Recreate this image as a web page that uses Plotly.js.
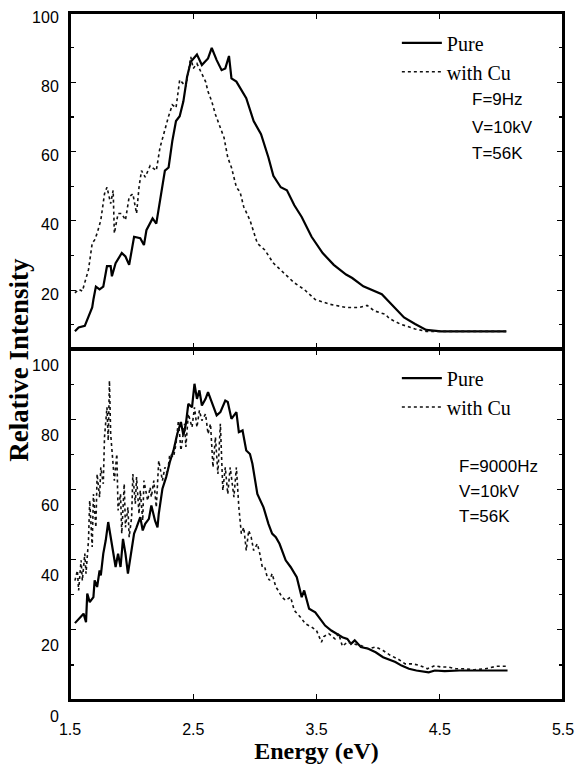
<!DOCTYPE html>
<html>
<head>
<meta charset="utf-8">
<script src="https://cdn.plot.ly/plotly-3.0.1.min.js"></script>
<style>
html,body{margin:0;padding:0;background:#fff;}
#chart{width:576px;height:768px;}
</style>
</head>
<body>
<div id="chart"></div>
<script>
// ---- Data ----
// Top panel: F=9Hz
const topPureX = [1.54,1.57,1.62,1.65,1.68,1.69,1.71,1.74,1.77,1.80,1.83,1.84,1.87,1.92,1.95,1.98,2.02,2.07,2.10,2.12,2.17,2.20,2.23,2.27,2.30,2.33,2.36,2.39,2.42,2.45,2.48,2.53,2.57,2.62,2.65,2.69,2.73,2.76,2.79,2.81,2.85,2.89,2.93,2.99,3.05,3.11,3.15,3.21,3.26,3.32,3.38,3.46,3.55,3.64,3.74,3.79,3.88,4.03,4.12,4.21,4.30,4.39,4.51,4.80,5.04];
const topPureY = [8.1,9.2,9.7,12.1,15.0,17.3,21.0,20.2,21.0,26.9,26.9,24.0,27.8,30.7,29.7,27.3,35.4,35.0,33.0,37.3,40.7,39.2,45.9,54.5,55.4,63.0,68.8,70.2,74.5,81.6,85.9,88.0,85.0,86.9,89.9,86.4,83.5,84.0,87.6,81.1,80.2,77.8,75.4,68.8,65.0,58.3,53.0,49.7,48.8,44.5,41.1,35.4,30.7,27.3,24.5,23.5,21.1,18.8,15.4,12.1,10.2,8.5,8.1,8.1,8.1];
const topCuX = [1.54,1.57,1.60,1.62,1.65,1.68,1.70,1.72,1.75,1.78,1.80,1.83,1.85,1.86,1.89,1.92,1.95,1.98,2.01,2.04,2.06,2.08,2.11,2.15,2.20,2.23,2.27,2.30,2.33,2.36,2.39,2.44,2.48,2.50,2.53,2.57,2.60,2.62,2.65,2.68,2.72,2.75,2.78,2.81,2.85,2.88,2.91,2.96,3.02,3.08,3.15,3.23,3.32,3.40,3.49,3.61,3.74,3.85,3.91,3.97,4.06,4.09,4.18,4.30,4.39,4.51,5.04];
const topCuY = [19.2,20.2,19.7,22.0,25.9,33.5,34.5,36.4,40.2,47.8,49.7,45.0,48.8,36.4,42.1,42.1,40.2,46.9,47.8,42.1,49.7,54.5,52.6,55.9,54.5,61.1,66.8,70.2,73.5,72.6,80.7,78.8,87.3,84.0,85.4,82.6,80.2,77.3,74.5,70.7,66.9,64.0,58.3,55.4,49.7,48.3,44.0,40.2,33.5,31.6,27.8,25.0,22.1,20.2,17.3,15.9,15.0,15.0,15.6,14.0,13.0,11.8,10.2,8.8,8.1,8.1,8.1];

// Bottom panel: F=9000Hz
const botPureX = [1.54,1.58,1.61,1.63,1.64,1.66,1.69,1.70,1.72,1.74,1.75,1.77,1.79,1.81,1.83,1.85,1.87,1.89,1.91,1.93,1.95,1.97,1.99,2.02,2.04,2.07,2.09,2.11,2.14,2.16,2.19,2.21,2.22,2.25,2.28,2.31,2.34,2.37,2.40,2.42,2.44,2.46,2.49,2.51,2.53,2.55,2.57,2.60,2.62,2.65,2.69,2.72,2.76,2.78,2.81,2.85,2.87,2.90,2.93,2.96,2.98,3.02,3.07,3.11,3.14,3.17,3.20,3.25,3.29,3.34,3.38,3.40,3.44,3.49,3.53,3.57,3.62,3.66,3.71,3.75,3.78,3.81,3.86,3.92,3.98,4.04,4.10,4.14,4.19,4.25,4.31,4.41,4.46,4.54,4.66,4.81,5.05];
const botPureY = [21.9,23.6,24.6,22.2,30.3,27.9,29.3,34.1,32.2,36.9,35.5,41.7,45.5,50.7,46.4,42.6,37.9,41.7,37.9,45.9,41.7,36.0,40.7,47.4,49.2,52.1,48.3,50.2,51.6,55.4,51.1,49.2,53.0,60.2,63.5,67.8,71.1,75.8,79.2,75.4,78.7,84.4,83.4,90.1,85.8,88.2,83.9,85.8,87.7,84.9,81.1,82.0,85.3,84.9,80.1,82.0,76.3,76.8,71.1,70.1,67.3,58.7,54.9,50.2,47.4,46.4,44.5,39.8,37.9,35.0,29.3,31.2,26.0,25.0,23.1,21.2,19.8,18.9,17.9,17.4,16.0,17.0,15.1,14.6,13.6,12.2,11.3,10.8,9.8,8.9,8.4,7.9,8.4,8.2,8.4,8.4,8.4];
const botCuX = [1.54,1.56,1.57,1.59,1.60,1.62,1.63,1.65,1.66,1.68,1.69,1.71,1.72,1.74,1.75,1.77,1.78,1.80,1.81,1.82,1.83,1.84,1.85,1.86,1.88,1.89,1.91,1.92,1.94,1.95,1.97,1.98,2.00,2.01,2.03,2.04,2.06,2.07,2.09,2.10,2.13,2.15,2.16,2.18,2.20,2.22,2.25,2.27,2.29,2.31,2.34,2.36,2.38,2.40,2.43,2.44,2.46,2.49,2.51,2.53,2.55,2.57,2.60,2.62,2.64,2.66,2.68,2.70,2.72,2.74,2.76,2.78,2.80,2.83,2.85,2.87,2.89,2.91,2.93,2.95,2.97,2.99,3.02,3.04,3.06,3.08,3.10,3.12,3.14,3.17,3.19,3.22,3.25,3.29,3.32,3.37,3.41,3.46,3.50,3.54,3.56,3.60,3.65,3.68,3.71,3.75,3.80,3.86,3.92,3.98,4.04,4.10,4.16,4.22,4.28,4.34,4.40,4.46,4.51,4.57,4.63,4.69,4.78,4.87,4.96,5.05];
const botCuY = [34.0,36.9,31.2,39.8,34.0,41.7,36.0,45.5,56.8,43.6,58.7,49.2,64.4,57.8,66.3,61.6,74.9,83.4,73.9,91.0,75.8,71.1,68.2,62.5,70.1,54.0,58.7,47.4,61.6,49.2,54.9,46.4,52.1,64.4,55.9,63.5,53.0,59.7,51.1,62.5,56.8,60.6,57.8,62.5,54.9,68.2,62.5,66.3,64.4,70.1,69.2,73.0,79.6,71.1,78.7,72.1,81.5,77.7,83.4,77.7,82.5,79.6,81.5,75.8,78.7,66.3,74.9,64.4,78.7,59.7,66.3,58.7,66.3,57.8,66.3,54.9,47.4,49.2,42.6,48.3,46.4,42.6,44.5,41.7,37.9,37.9,35.0,34.1,36.0,32.2,31.2,29.3,28.4,29.3,25.5,23.6,21.7,20.8,19.8,16.5,18.1,18.9,17.4,18.9,15.3,16.5,16.0,15.5,14.6,15.1,14.1,12.7,11.7,10.3,10.3,9.8,8.9,9.8,9.4,9.4,8.9,8.9,8.6,8.9,9.6,9.6];

// Labels and ticks
const seriesNames = ["Pure", "with Cu"];
const topInfo = ["F=9Hz", "V=10kV", "T=56K"];
const botInfo = ["F=9000Hz", "V=10kV", "T=56K"];
const xTitle = "Energy (eV)";
const yTitle = "Relative Intensity";

// ---- Styles ----
const sans = "Liberation Sans, Arial, sans-serif";
const serif = "Liberation Serif, Times New Roman, serif";
const solidLine = {color: "#000", width: 2.2};
const dotLine = {color: "#111", width: 1.6, dash: "dot"};

const traces = [
  {x: topPureX, y: topPureY, xaxis: "x", yaxis: "y", mode: "lines", name: seriesNames[0], line: solidLine, legend: "legend"},
  {x: topCuX, y: topCuY, xaxis: "x", yaxis: "y", mode: "lines", name: seriesNames[1], line: dotLine, legend: "legend"},
  {x: botPureX, y: botPureY, xaxis: "x2", yaxis: "y2", mode: "lines", name: seriesNames[0], line: solidLine, legend: "legend2"},
  {x: botCuX, y: botCuY, xaxis: "x2", yaxis: "y2", mode: "lines", name: seriesNames[1], line: dotLine, legend: "legend2"}
];

const split = 0.5109;
const axisCommon = {
  showline: true, linecolor: "#000", linewidth: 2, mirror: "ticks",
  ticks: "inside", ticklen: 6, tickcolor: "#000", tickwidth: 1.2,
  showgrid: false, zeroline: false, fixedrange: true,
  tickfont: {family: sans, size: 16, color: "#000"}
};

function infoAnnots(lines, x, ys) {
  return lines.map((t, i) => ({
    text: t, xref: "paper", yref: "paper", x: x, y: ys[i],
    xanchor: "left", yanchor: "middle", showarrow: false,
    font: {family: sans, size: 17, color: "#000"}
  }));
}

function frame(xr, yr) {
  return {type: "rect", xref: xr + " domain", yref: yr + " domain", x0: 0, x1: 1, y0: 0, y1: 1,
          line: {color: "#000", width: 2}, fillcolor: "rgba(0,0,0,0)", layer: "above"};
}

const layout = {
  width: 576, height: 768,
  margin: {l: 70, r: 13, t: 13, b: 68},
  paper_bgcolor: "#fff", plot_bgcolor: "#fff",
  showlegend: true,
  xaxis: Object.assign({}, axisCommon, {
    domain: [0, 1], anchor: "y", range: [1.5, 5.5],
    tickmode: "linear", tick0: 1.5, dtick: 1, showticklabels: false
  }),
  yaxis: Object.assign({}, axisCommon, {
    domain: [split, 1], anchor: "x", range: [3, 100],
    tickmode: "linear", tick0: 0, dtick: 20, ticklabelstandoff: 6, ticklabelshift: 4,
    minor: {ticks: "inside", ticklen: 4, dtick: 10, tickcolor: "#000"}
  }),
  xaxis2: Object.assign({}, axisCommon, {
    domain: [0, 1], anchor: "y2", range: [1.5, 5.5],
    tickmode: "linear", tick0: 1.5, dtick: 1, tickformat: ".1f", ticklabelstandoff: 14,
    title: {text: "<b>" + xTitle + "</b>", standoff: 4, font: {family: serif, size: 24, color: "#000"}}
  }),
  yaxis2: Object.assign({}, axisCommon, {
    domain: [0, split], anchor: "x2", range: [0, 100],
    tickmode: "linear", tick0: 0, dtick: 20, ticklabelstandoff: 6, ticklabelshift: 16,
    minor: {ticks: "inside", ticklen: 4, dtick: 10, tickcolor: "#000"}
  }),
  legend: {
    x: 0.663, y: 0.985, xanchor: "left", yanchor: "top", xref: "paper", yref: "paper",
    bgcolor: "rgba(0,0,0,0)", borderwidth: 0, itemwidth: 40, tracegroupgap: 0,
    font: {family: serif, size: 20, color: "#000"}
  },
  legend2: {
    x: 0.663, y: 0.497, xanchor: "left", yanchor: "top", xref: "paper", yref: "paper",
    bgcolor: "rgba(0,0,0,0)", borderwidth: 0, itemwidth: 40, tracegroupgap: 0,
    font: {family: serif, size: 20, color: "#000"}
  },
  shapes: [frame("x", "y"), frame("x2", "y2")],
  annotations: [].concat(
    infoAnnots(topInfo, 0.811, [0.8734, 0.834, 0.796]),
    infoAnnots(botInfo, 0.785, [0.3406, 0.3042, 0.2678]),
    [{
      text: "<b>" + yTitle + "</b>", xref: "paper", yref: "paper",
      x: -0.104, y: 0.495, xanchor: "center", yanchor: "middle",
      textangle: -90, showarrow: false, borderpad: 0,
      font: {family: serif, size: 27, color: "#000"}
    }]
  )
};

Plotly.newPlot("chart", traces, layout, {staticPlot: true, displayModeBar: false});
</script>
</body>
</html>
